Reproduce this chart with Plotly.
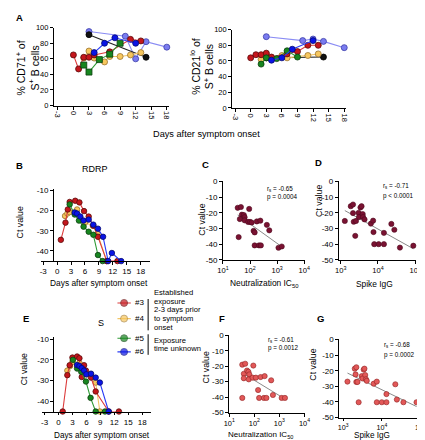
import numpy as np
import plotly.graph_objects as go

W, H = 425, 440
FONT = "Liberation Sans, Arial, sans-serif"

# ---------------- tick labels ----------------
DAY_TICKS = [-3, 0, 3, 6, 9, 12, 15, 18]
DAY_LABELS = ["-3", "0", "3", "6", "9", "12", "15", "18"]
PCT_TICKS = [0, 20, 40, 60, 80, 100]
PCT_LABELS = ["0", "20", "40", "60", "80", "100"]
CTK_TICKS = [-10, -20, -30, -40]
CTK_LABELS = ["-10", "-20", "-30", "-40"]
CTS_TICKS = [0, -10, -20, -30, -40, -50]
CTS_LABELS = ["0", "-10", "-20", "-30", "-40", "-50"]
NEUT_TICKS = [10, 100, 1000, 10000]
NEUT_LABELS = ["10<sup>1</sup>", "10<sup>2</sup>", "10<sup>3</sup>", "10<sup>4</sup>"]
IGG_TICKS = [1000, 10000, 100000]
IGG_LABELS = ["10<sup>3</sup>", "10<sup>4</sup>", "10<sup>5</sup>"]

# ---------------- Panel A: % CD71+ of S+ B cells ----------------
cd71_p1_days = [3, 10, 12, 14, 18]
cd71_p1 = [95, 89, 60, 82, 75]
cd71_p2_days = [3, 14]
cd71_p2 = [91, 62]
cd71_p3_days = [0, 1, 2, 3, 4, 7, 11, 13]
cd71_p3 = [65, 47, 62, 62, 65, 69, 85, 83]
cd71_p4_days = [2, 3, 4, 6, 7, 9, 11, 13]
cd71_p4 = [61, 70, 61, 56, 63, 63, 65, 68]
cd71_p5_days = [2, 3, 5, 7, 9]
cd71_p5 = [52, 43, 59, 66, 80]
cd71_p6_days = [4, 6, 8, 12]
cd71_p6 = [68, 80, 87, 80]

# ---------------- Panel A: % CD21lo of S+ B cells ----------------
cd21_p1_days = [3, 10, 12, 14, 18]
cd21_p1 = [91, 86, 88, 85, 77]
cd21_p2_days = [3, 14]
cd21_p2 = [64, 65]
cd21_p3_days = [0, 1, 2, 3, 4, 7, 9, 11, 13]
cd21_p3 = [64, 68, 68, 70, 65, 69, 72, 80, 80]
cd21_p4_days = [2, 3, 4, 6, 7, 11, 13]
cd21_p4 = [62, 69, 62, 67, 64, 67, 69]
cd21_p5_days = [2, 3, 5, 7, 9]
cd21_p5 = [56, 64, 63, 73, 65]
cd21_p6_days = [4, 6, 8, 12]
cd21_p6 = [61, 64, 75, 86]

# ---------------- Panel B: RDRP Ct kinetics ----------------
rdrp_p3_days = [0.8, 1.8, 2.3, 2.7, 3.9, 4.8, 5.8, 6.8, 7.8, 8.8, 10.7, 13.0]
rdrp_p3 = [-34.5, -26, -19.5, -15.8, -15.2, -16, -20.3, -23, -27.5, -33, -45, -45]
rdrp_p4_days = [1.7, 2.2, 2.7, 3.7, 4.3, 5.0, 6.0, 7.7, 8.7, 10.7]
rdrp_p4 = [-22.7, -21.5, -20.8, -21, -19.5, -24, -26, -27.5, -31.5, -45]
rdrp_p5_days = [2.7, 3.8, 4.7, 5.7, 6.8, 7.8, 8.8, 9.8]
rdrp_p5 = [-17, -22, -25, -28, -30.5, -32, -42, -45]
rdrp_p6_days = [3.8, 4.3, 5.0, 5.7, 6.8, 7.8, 8.8, 9.9, 11.0, 11.8, 13.8]
rdrp_p6 = [-21, -21.5, -23, -25, -24.5, -27, -29, -33, -45, -41, -45]

# ---------------- Panel E: S Ct kinetics ----------------
s_p3_days = [0.9, 1.9, 2.4, 3.0, 4.0, 4.5, 5.0, 5.5, 5.9, 7.0, 8.0, 10.8, 13.0]
s_p3 = [-45, -27.4, -22.6, -18.9, -18.4, -19.2, -28.3, -22.6, -25.2, -28.6, -35.3, -45, -45]
s_p4_days = [1.9, 2.5, 3.0, 4.0, 4.5, 5.0, 6.0, 7.0, 8.0, 8.9]
s_p4 = [-25.2, -23, -21, -23, -21.5, -25, -27, -27, -31, -45]
s_p5_days = [3.1, 4.0, 4.9, 5.9, 6.9, 8.0, 10.0]
s_p5 = [-20, -24.2, -25.8, -30.5, -38.4, -45, -45]
s_p6_days = [4.0, 4.5, 5.0, 5.5, 6.0, 7.0, 8.0, 8.9, 10.8]
s_p6 = [-22.5, -23, -24, -25.2, -27, -26.7, -28.6, -31, -45]

# ---------------- Panel C: RDRP Ct vs neutralization IC50 ----------------
c_ic50 = [35, 46, 93, 50, 59, 63, 42, 63, 85, 100, 115, 178, 240, 417, 513,
          135, 148, 38, 148, 214, 251, 1122, 1479]
c_ct = [-16.8, -16.3, -17.5, -21.2, -21.4, -22.8, -24.0, -24.8, -25.8, -25.8,
        -26.2, -25.5, -25.0, -27.7, -31.2, -31.5, -32.5, -35.5, -40.8, -40.8,
        -40.8, -42.3, -41.5]

# ---------------- Panel D: RDRP Ct vs Spike IgG ----------------
d_igg = [1288, 1862, 2138, 2138, 2239, 2570, 2455, 3020, 3090, 3388, 3631, 3890,
         3981, 4365, 6457, 7413, 7586, 7943, 10471, 14454, 14454, 22909, 27542,
         38905, 89125]
d_ct = [-25.2, -15.8, -14.7, -20.2, -25.7, -25.2, -34.7, -20.0, -22.7, -16.6,
        -15.8, -20.8, -22.7, -24.2, -26.9, -25.0, -32.3, -40, -40, -40, -32.8,
        -27.1, -30.8, -42.2, -41]

# ---------------- Panel F: S Ct vs neutralization IC50 ----------------
f_ic50 = [33, 43, 38, 38, 51, 58, 63, 60, 91, 85, 115, 178, 257, 141, 155, 240,
          302, 468, 550, 1230, 1660, 33]
f_ct = [-19, -18.4, -24.9, -27.8, -22.8, -23.6, -25.3, -28.5, -19.6, -27.4,
        -27.4, -27.0, -26.4, -35.4, -40.5, -40.5, -40.5, -29.1, -38.6, -40.5,
        -40.5, -40.5]

# ---------------- Panel G: S Ct vs Spike IgG ----------------
g_igg = [1288, 1995, 2188, 2089, 2188, 2344, 2512, 3020, 3162, 3388, 3548, 3715,
         3890, 4074, 6166, 7413, 7413, 10000, 13183, 13183, 22387, 24547, 36308,
         79433]
g_ct = [-27, -18.7, -17.8, -22.4, -27.2, -27.2, -40.2, -23.5, -25, -19.3, -18.7,
        -22.8, -25.5, -26.5, -28.3, -27, -40.2, -40.2, -40.2, -35, -28.7, -38.5,
        -40.2, -40.2]

# ---------------- statistics text ----------------
STATS = {"C": ("-0.65", "p = 0.0004"), "D": ("-0.71", "p < 0.0001"),
         "F": ("-0.61", "p = 0.0012"), "G": ("-0.68", "p = 0.0002")}

LEGEND_LABELS = ["#3", "#4", "#5", "#6"]

# ---------------- styles ----------------
STY = {
    "p1": dict(fill="#7a7cf0", edge="#3c3ea8", line="#8a8cf4"),
    "p2": dict(fill="#111111", edge="#000000", line="#222222"),
    "p3": dict(fill="#c4161c", edge="#5a0a0a", line="#dc3c3c"),
    "p4": dict(fill="#f7c75e", edge="#9a7430", line="#f2c668"),
    "p5": dict(fill="#17861f", edge="#0b3d0e", line="#2e9a35"),
    "p6": dict(fill="#0a14e6", edge="#050a70", line="#2a3cf5"),
}


def dx(a, b):
    return [a / W, b / W]


def dy(top, bot):
    return [1 - bot / H, 1 - top / H]


fig = go.Figure()


def series(x, y, key, ax, size=6, symbol="circle"):
    s = STY[key]
    fig.add_trace(go.Scatter(
        x=x, y=y, mode="lines+markers", xaxis=ax[0], yaxis=ax[1],
        line=dict(color=s["line"], width=1.1),
        marker=dict(symbol=symbol, size=size, color=s["fill"],
                    line=dict(color=s["edge"], width=0.8)),
        showlegend=False, cliponaxis=False, hoverinfo="skip"))


# Panel A left
for d, v, k in [(cd71_p1_days, cd71_p1, "p1"), (cd71_p2_days, cd71_p2, "p2"),
                (cd71_p4_days, cd71_p4, "p4"), (cd71_p3_days, cd71_p3, "p3"),
                (cd71_p5_days, cd71_p5, "p5"), (cd71_p6_days, cd71_p6, "p6")]:
    series(d, v, k, ("x", "y"), 6, "square" if k == "p5" else "circle")
# Panel A right
for d, v, k in [(cd21_p1_days, cd21_p1, "p1"), (cd21_p2_days, cd21_p2, "p2"),
                (cd21_p4_days, cd21_p4, "p4"), (cd21_p3_days, cd21_p3, "p3"),
                (cd21_p5_days, cd21_p5, "p5"), (cd21_p6_days, cd21_p6, "p6")]:
    series(d, v, k, ("x2", "y2"), 6, "circle")
# Panel B
for d, v, k in [(rdrp_p4_days, rdrp_p4, "p4"), (rdrp_p3_days, rdrp_p3, "p3"),
                (rdrp_p5_days, rdrp_p5, "p5"), (rdrp_p6_days, rdrp_p6, "p6")]:
    series(d, v, k, ("x3", "y3"), 5.5)
# Panel E
for d, v, k in [(s_p4_days, s_p4, "p4"), (s_p3_days, s_p3, "p3"),
                (s_p5_days, s_p5, "p5"), (s_p6_days, s_p6, "p6")]:
    series(d, v, k, ("x6", "y6"), 5.5)


def scatter_panel(xv, yv, ax, fill, edge):
    lx = np.log10(np.array(xv, dtype=float))
    yy = np.array(yv, dtype=float)
    k, b = np.polyfit(lx, yy, 1)
    xs = np.array([lx.min(), lx.max()])
    fig.add_trace(go.Scatter(
        x=10 ** xs, y=k * xs + b, mode="lines", xaxis=ax[0], yaxis=ax[1],
        line=dict(color="#8a8a8a", width=1), showlegend=False, hoverinfo="skip"))
    fig.add_trace(go.Scatter(
        x=xv, y=yv, mode="markers", xaxis=ax[0], yaxis=ax[1],
        marker=dict(size=5.2, color=fill, line=dict(color=edge, width=0.6)),
        showlegend=False, cliponaxis=False, hoverinfo="skip"))


MAROON = ("#7a1232", "#4e0a1f")
SALMON = ("#e25858", "#8e2424")
scatter_panel(c_ic50, c_ct, ("x4", "y4"), *MAROON)
scatter_panel(d_igg, d_ct, ("x5", "y5"), *MAROON)
scatter_panel(f_ic50, f_ct, ("x7", "y7"), *SALMON)
scatter_panel(g_igg, g_ct, ("x8", "y8"), *SALMON)

# legend keys (small helper axis)
key_y = [0, 1, 2.25, 3.125]
for i, lab in enumerate(LEGEND_LABELS):
    s = STY["p%d" % (i + 3)]
    fig.add_trace(go.Scatter(
        x=[0, 1, 2], y=[key_y[i]] * 3, mode="lines+markers",
        xaxis="x9", yaxis="y9",
        line=dict(color=s["line"], width=1.1),
        marker=dict(size=[0, 7, 0], color=s["fill"],
                    line=dict(color=s["edge"], width=[0, 0.8, 0])),
        showlegend=False, cliponaxis=False, hoverinfo="skip"))

AX = dict(showline=True, linecolor="black", linewidth=1, ticks="outside",
          ticklen=3, tickwidth=1, tickcolor="black", showgrid=False,
          zeroline=False, tickfont=dict(size=8, color="black", family=FONT))

lay = dict(
    width=W, height=H, margin=dict(l=0, r=0, t=0, b=0),
    paper_bgcolor="white", plot_bgcolor="white", showlegend=False,
    font=dict(family=FONT, color="black"),
)
# A left
lay["xaxis"] = dict(AX, domain=dx(41, 159), range=[-3.75, 18.4], anchor="y",
                    tickvals=DAY_TICKS, ticktext=DAY_LABELS, tickangle=90,
                    tickfont=dict(size=7.5, family=FONT))
lay["yaxis"] = dict(AX, domain=dy(16, 95.5), range=[0, 100], anchor="x",
                    tickvals=PCT_TICKS, ticktext=PCT_LABELS,
                    tickfont=dict(size=7.5, family=FONT))
# A right
lay["xaxis2"] = dict(AX, domain=dx(224, 341), range=[-3.56, 18.37], anchor="y2",
                     tickvals=DAY_TICKS, ticktext=DAY_LABELS, tickangle=90,
                     tickfont=dict(size=7.5, family=FONT))
lay["yaxis2"] = dict(AX, domain=dy(18, 98), range=[0, 100], anchor="x2",
                     tickvals=PCT_TICKS, ticktext=PCT_LABELS,
                     tickfont=dict(size=7.5, family=FONT))
# B
lay["xaxis3"] = dict(AX, domain=dx(28, 140), range=[-3.42, 20.1], anchor="y3",
                     tickvals=DAY_TICKS, ticktext=DAY_LABELS, ticklen=2.5)
lay["yaxis3"] = dict(AX, domain=dy(180.3, 254.3), range=[-45, -9.2],
                     anchor="free", position=40 / W,
                     tickvals=CTK_TICKS, ticktext=CTK_LABELS)
# C
lay["xaxis4"] = dict(AX, type="log", domain=dx(214.5, 298.5), range=[1, 4.02],
                     anchor="y4", tickvals=NEUT_TICKS, ticktext=NEUT_LABELS,
                     tickfont=dict(size=7.6, family=FONT))
lay["yaxis4"] = dict(AX, domain=dy(173, 253), range=[-50, 0], anchor="x4",
                     tickvals=CTS_TICKS, ticktext=CTS_LABELS)
# D
lay["xaxis5"] = dict(AX, type="log", domain=dx(333.5, 413), range=[2.95, 5.03],
                     anchor="y5", tickvals=IGG_TICKS, ticktext=IGG_LABELS,
                     tickfont=dict(size=7.6, family=FONT))
lay["yaxis5"] = dict(AX, domain=dy(173, 253), range=[-50, 0], anchor="x5",
                     tickvals=CTS_TICKS, ticktext=CTS_LABELS)
# E
lay["xaxis6"] = dict(AX, domain=dx(29, 141), range=[-3.5, 19.98], anchor="y6",
                     tickvals=DAY_TICKS, ticktext=DAY_LABELS, ticklen=2.5)
lay["yaxis6"] = dict(AX, domain=dy(331.9, 407.85), range=[-45, -9],
                     anchor="free", position=40.5 / W,
                     tickvals=CTK_TICKS, ticktext=CTK_LABELS)
# F
lay["xaxis7"] = dict(AX, type="log", domain=dx(221, 299), range=[1, 4.03],
                     anchor="y7", tickvals=NEUT_TICKS, ticktext=NEUT_LABELS,
                     tickfont=dict(size=7.4, family=FONT))
lay["yaxis7"] = dict(AX, domain=dy(330, 409), range=[-50, 0], anchor="x7",
                     tickvals=CTS_TICKS, ticktext=CTS_LABELS)
# G
lay["xaxis8"] = dict(AX, type="log", domain=dx(334, 418), range=[2.9, 5.02],
                     anchor="y8", tickvals=IGG_TICKS, ticktext=IGG_LABELS,
                     ticklen=2.5, tickfont=dict(size=7.2, family=FONT))
lay["yaxis8"] = dict(AX, domain=dy(334.3, 414), range=[-50, 0], anchor="x8",
                     tickvals=CTS_TICKS, ticktext=CTS_LABELS)
# legend key axis
lay["xaxis9"] = dict(domain=dx(106, 120), range=[0, 2], visible=False, anchor="y9")
lay["yaxis9"] = dict(domain=dy(290, 352), range=[3.4375, -0.4375], visible=False,
                     anchor="x9")

ann = []


def txt(x, y, s, size=8.6, xanchor="center", angle=0, bold=False):
    ann.append(dict(x=x / W, y=1 - y / H, xref="paper", yref="paper", text=s,
                    showarrow=False, xanchor=xanchor, yanchor="middle",
                    textangle=angle,
                    font=dict(size=size, family=FONT, color="black",
                              weight="bold" if bold else "normal")))


# panel letters
for lab, x, y in [("A", 6, 6), ("B", 6, 157), ("C", 197, 156), ("D", 313, 154),
                  ("E", 12, 313), ("F", 214, 313), ("G", 315, 313)]:
    txt(x, y, lab, 9.5, "center", 0, True)

# axis titles
txt(14, 57, "% CD71<sup>+</sup> of<br>S<sup>+</sup> B cells", 10.5, angle=-90)
txt(193, 56, "% CD21<sup>lo</sup> of<br>S<sup>+</sup> B cells", 10.5, angle=-90)
txt(198, 125, "Days after symptom onset", 9.2)
txt(83, 160, "RDRP", 9)
txt(89, 318, "S", 9)
txt(6, 215, "Ct value", 8.8, angle=-90)
txt(193, 212, "Ct value", 8.8, angle=-90)
txt(313, 193, "Ct value", 8.8, angle=-90)
txt(10, 365, "Ct value", 8.8, angle=-90)
txt(197, 363, "Ct value", 8.8, angle=-90)
txt(307, 360, "Ct value", 8.8, angle=-90)
txt(87, 276.5, "Days after symptom onset", 8.4)
txt(90, 432.6, "Days after symptom onset", 8.2)
txt(257, 277.5, "Neutralization IC<sub>50</sub>", 8.4)
txt(253, 432.3, "Neutralization IC<sub>50</sub>", 8.0)
txt(370, 277.5, "Spike IgG", 8.4)
txt(367, 432.6, "Spike IgG", 8.2)

# statistics
for p, (x, y1, y2) in {"C": (258, 181, 189), "D": (377, 178, 188),
                       "F": (259, 335, 343), "G": (378, 340, 350)}.items():
    r, pv = STATS[p]
    txt(x, y1, "r<sub>s</sub> = " + r, 6.3, "left")
    txt(x, y2, pv, 6.3, "left")

# legend labels
for i, lab in enumerate(LEGEND_LABELS):
    ann.append(dict(x=2, y=key_y[i], xref="x9", yref="y9", text=lab,
                    showarrow=False, xanchor="left", yanchor="middle", xshift=2,
                    font=dict(size=8, family=FONT, color="black")))
for s, y in [("Established", 286.7), ("exposure", 295.4), ("2-3 days prior", 304.2),
             ("to symptom", 313), ("onset", 321.7), ("Exposure", 335),
             ("time unknown", 343.5)]:
    txt(142, y, s, 7.6, "left")

lay["annotations"] = ann
lay["shapes"] = [
    dict(type="line", xref="paper", yref="paper", x0=137.7 / W, x1=137.7 / W,
         y0=1 - 293 / H, y1=1 - 325 / H, line=dict(color="black", width=1)),
    dict(type="line", xref="paper", yref="paper", x0=137.7 / W, x1=137.7 / W,
         y0=1 - 329 / H, y1=1 - 350 / H, line=dict(color="black", width=1)),
]

fig.update_layout(**lay)
fig.write_html("out.html")
